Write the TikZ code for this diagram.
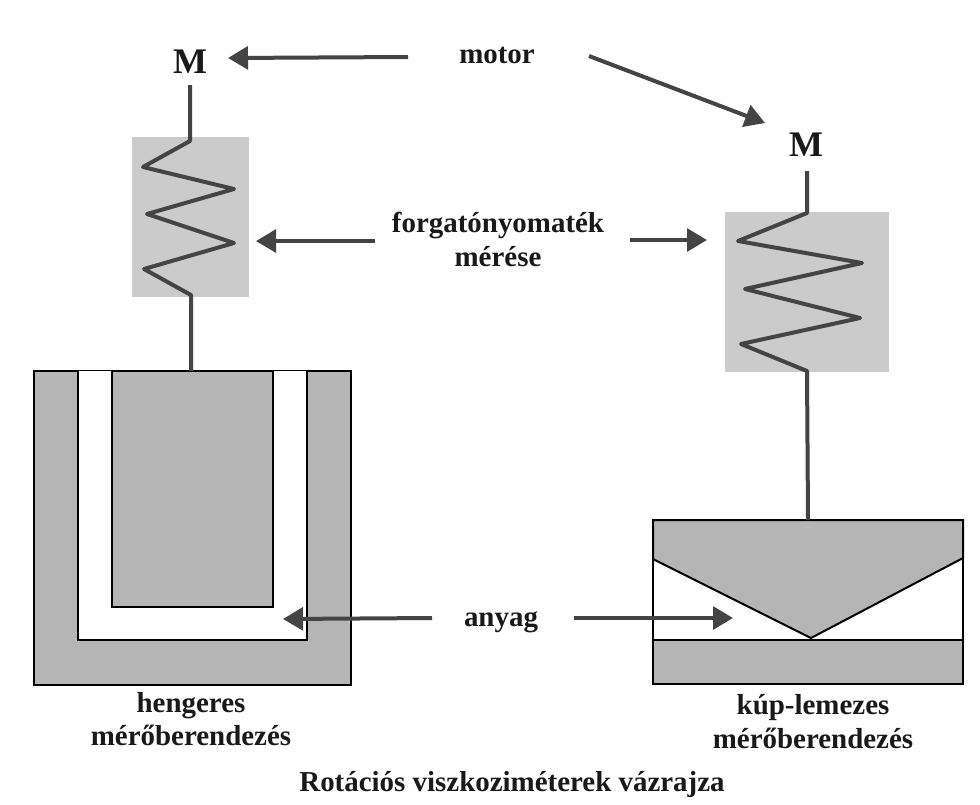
\documentclass[tikz,border=0pt]{standalone}
\usepackage{fontspec}
\setmainfont{Liberation Serif}
\usetikzlibrary{arrows.meta}

\definecolor{partgray}{HTML}{B5B5B5}
\definecolor{boxgray}{HTML}{CBCBCB}
\definecolor{inkgray}{HTML}{444444}

\tikzset{
  lbl/.style={font=\bfseries\fontsize{21.7}{24}\selectfont,align=center,inner sep=0pt,text=black!90},
  motorlbl/.style={font=\bfseries\fontsize{27}{30}\selectfont,inner sep=0pt,text=black!90},
  springbox/.style={fill=boxgray,inner sep=0pt,anchor=north west},
  spring/.style={draw=inkgray,line width=3pt,line join=round},
  pointer/.style={draw=inkgray,line width=3pt,-{Triangle[length=15pt,width=17pt]}},
  part/.style={fill=partgray,draw=black,line width=1.5pt},
  gap/.style={fill=white,draw=black,line width=1.5pt}
}

\begin{document}
\begin{tikzpicture}[x=.75pt,y=-.75pt]
\useasboundingbox (0,0) rectangle (980,804);

\node[motorlbl] (ML) at (190,62) {M};
\node[motorlbl] (MR) at (806,145) {M};
\node[lbl] (motor) at (497,55) {motor};
\node[lbl] (torque) at (498,239) {forgatónyomaték\\[1.5pt]mérése};
\node[lbl] (anyag) at (501,622) {anyag};
\node[lbl] (hengeres) at (191,719) {hengeres\\[1pt]mérőberendezés};
\node[lbl] (kup) at (813,722) {kúp-lemezes\\[1.5pt]mérőberendezés};
\node[lbl] (title) at (512,785) {Rotációs viszkoziméterek vázrajza};

\node[springbox,minimum width=87.75pt,minimum height=120pt] (boxL) at (132,137) {};
\node[springbox,minimum width=123pt,minimum height=120pt] (boxR) at (725,212) {};

% cylinder
\draw[part] (34,371) rectangle (351,685);
\fill[white] (78,371) rectangle (307,640);
\draw[black,line width=1.5pt] (78,371) -- (78,640) -- (307,640) -- (307,371);
\draw[part] (112,371) rectangle (273,607);

% cone and plate
\draw[gap] (653,520) rectangle (963,640);
\draw[part] (653,520) -- (963,520) -- (963,558) -- (811,638) -- (653,559) -- cycle;
\draw[part] (653,640) rectangle (963,684);

% springs
\coordinate (shaftLA) at (190,85);
\coordinate (shaftLB) at (191,371);
\coordinate (shaftRA) at (807,171);
\coordinate (shaftRB) at (808,520);
\draw[spring] (shaftLA) -- (190,141) -- (143,167) -- (234,189) -- (147,214) -- (234,243) -- (144,269) -- (191,295) -- (shaftLB);
\draw[spring] (shaftRA) -- (807,213) -- (738,241) -- (862,263) -- (745,289) -- (860,318) -- (741,344) -- (807,371) -- (shaftRB);

% arrows
\coordinate (a1) at (408,57);
\coordinate (a2) at (228,58);
\coordinate (b1) at (589,56);
\coordinate (b2) at (765,123);
\coordinate (c1) at (375,241);
\coordinate (c2) at (256,241);
\coordinate (d1) at (630,240);
\coordinate (d2) at (707,240);
\coordinate (e1) at (432,618);
\coordinate (e2) at (283,619);
\coordinate (f1) at (574,618);
\coordinate (f2) at (733,618);
\draw[pointer] (a1) -- (a2);
\draw[pointer] (b1) -- (b2);
\draw[pointer] (c1) -- (c2);
\draw[pointer] (d1) -- (d2);
\draw[pointer] (e1) -- (e2);
\draw[pointer] (f1) -- (f2);
\end{tikzpicture}
\end{document}
